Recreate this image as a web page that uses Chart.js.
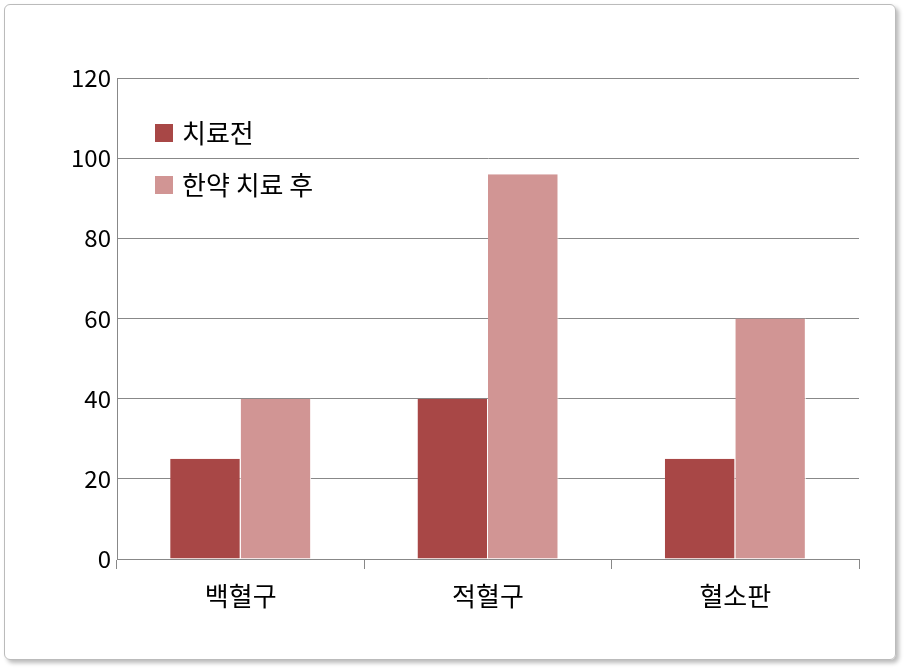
<!DOCTYPE html>
<html><head><meta charset="utf-8">
<script src="https://cdn.jsdelivr.net/npm/chart.js@4"></script>
<style>
html,body{margin:0;padding:0;background:#fff;}
#frame{position:absolute;left:4px;top:4px;width:890px;height:654px;border:1px solid #bbb;border-radius:6px;box-shadow:3px 3px 4px #bbb;}
#wrap{position:absolute;left:0;top:0;width:907px;height:669px;}
</style></head><body>
<div id="frame"></div>
<div id="wrap"><canvas id="c" width="907" height="669"></canvas></div>
<script>
const categories=['백혈구','적혈구','혈소판'];
const before=[25,40,25];
const after=[40,96,60];
const seriesNames=['치료전','한약 치료 후'];
const colors=['#A84746','#D19594'];
const font='"Noto Sans CJK KR", "Noto Sans", sans-serif';
const legendPlugin={id:'inLegend',afterDraw(chart){
  const ctx=chart.ctx;ctx.save();
  chart.data.datasets.forEach((d,i)=>{
    const y=133+i*52;
    ctx.fillStyle=d.backgroundColor;ctx.fillRect(155,y-9,18,18);
    ctx.fillStyle='#000';ctx.font='26px '+font;ctx.textBaseline='middle';
    ctx.fillText(d.label,182,y);
  });ctx.restore();}};
new Chart(document.getElementById('c'),{type:'bar',
data:{labels:categories,datasets:[
 {label:seriesNames[0],data:before,backgroundColor:colors[0],borderColor:'#fff',borderWidth:{right:1}},
 {label:seriesNames[1],data:after,backgroundColor:colors[1],borderColor:'#fff',borderWidth:{right:1}}]},
options:{responsive:false,animation:false,
 layout:{padding:{top:78,right:48,left:0,bottom:0}},
 plugins:{legend:{display:false},tooltip:{enabled:false}},
 datasets:{bar:{categoryPercentage:0.57,barPercentage:1}},
 scales:{
  x:{grid:{offset:true,drawOnChartArea:false,tickLength:10,color:'#888'},border:{color:'#888'},
     ticks:{color:'#000',font:{family:font,size:26},padding:12},
     afterFit(s){s.height=110;}},
  y:{min:0,max:120,ticks:{stepSize:20,color:'#000',font:{family:font,size:24},padding:6},
     grid:{color:'#888',drawTicks:false},border:{color:'#888'},
     afterFit(s){s.width=117;}}
 }},plugins:[legendPlugin]});
</script></body></html>
